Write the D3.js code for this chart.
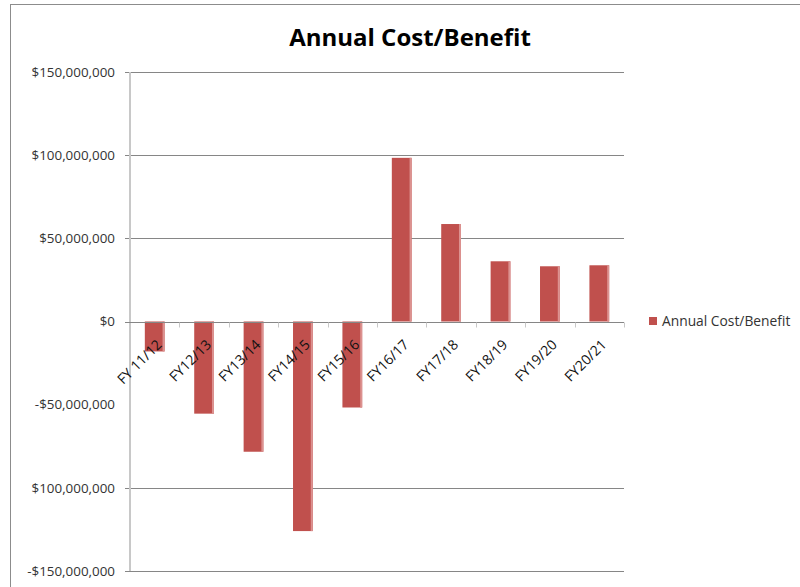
<!DOCTYPE html>
<html>
<head>
<meta charset="utf-8">
<script src="https://cdn.jsdelivr.net/npm/d3@7"></script>
<style>
  body { margin:0; background:#fff; }
  svg { display:block; }
</style>
</head>
<body>
<svg></svg>
<script>
var categories = ["FY 11/12","FY12/13","FY13/14","FY14/15","FY15/16","FY16/17","FY17/18","FY18/19","FY19/20","FY20/21"];
var values = [-18000000,-55400000,-78300000,-126000000,-51700000,98400000,58600000,36200000,33200000,33800000];
var tickValues = [150000000,100000000,50000000,0,-50000000,-100000000,-150000000];
var tickLabels = ["$150,000,000","$100,000,000","$50,000,000","$0","-$50,000,000","$100,000,000","-$150,000,000"];
var seriesName = "Annual Cost/Benefit";

var width = 800, height = 587;
var margin = {left:130, right:176, top:72, bottom:16};

var svg = d3.select("svg")
  .attr("width", width)
  .attr("height", height);

// chart border
svg.append("rect")
  .attr("x", 10.5).attr("y", 4.5)
  .attr("width", 820).attr("height", 620)
  .attr("fill", "none")
  .attr("stroke", "#8c8c8c");

var x = d3.scaleBand()
  .domain(categories)
  .range([margin.left, width - margin.right])
  .paddingInner(0.6)
  .paddingOuter(0.3);

var y = d3.scaleLinear()
  .domain([-150000000, 150000000])
  .range([571, 72]);

// gridlines (no line at -50M in the original)
svg.append("g").selectAll("line")
  .data(tickValues.filter(function(d){ return d !== -50000000 && d !== 0; }))
  .enter().append("line")
  .attr("x1", margin.left - 5)
  .attr("x2", width - margin.right)
  .attr("y1", function(d){ return Math.round(y(d)) + 0.5; })
  .attr("y2", function(d){ return Math.round(y(d)) + 0.5; })
  .attr("stroke", "#868686");

// y labels
svg.append("g").selectAll("text")
  .data(tickValues)
  .enter().append("text")
  .attr("x", 115)
  .attr("y", function(d){ return y(d); })
  .attr("dy", "0.35em")
  .attr("text-anchor", "end")
  .attr("font-family", "Open Sans, sans-serif")
  .attr("font-size", "13.4px")
  .attr("fill", "#333")
  .text(function(d, i){ return tickLabels[i]; });

// bars
var bars = svg.append("g").selectAll("g")
  .data(values)
  .enter().append("g");

bars.append("rect")
  .attr("x", function(d, i){ return x(categories[i]); })
  .attr("y", function(d){ return y(Math.max(0, d)); })
  .attr("width", x.bandwidth())
  .attr("height", function(d){ return Math.abs(y(d) - y(0)); })
  .attr("fill", "#c0504d");

bars.append("rect")
  .attr("x", function(d, i){ return x(categories[i]) + x.bandwidth() - 2; })
  .attr("y", function(d){ return y(Math.max(0, d)); })
  .attr("width", 2)
  .attr("height", function(d){ return Math.abs(y(d) - y(0)); })
  .attr("fill", "#dc9290");

// y axis line
svg.append("line")
  .attr("x1", margin.left).attr("x2", margin.left)
  .attr("y1", 72).attr("y2", 571)
  .attr("stroke", "#c8c8c8")
  .attr("stroke-width", 2);

// zero line / category axis
var y0 = Math.round(y(0)) + 0.5;
svg.append("line")
  .attr("x1", margin.left - 5).attr("x2", width - margin.right)
  .attr("y1", y0).attr("y2", y0)
  .attr("stroke", "#868686");

var plotW = width - margin.right - margin.left;
svg.append("g").selectAll("line")
  .data(d3.range(1, categories.length + 1))
  .enter().append("line")
  .attr("x1", function(i){ return Math.round(margin.left + i * plotW / categories.length) + 0.5; })
  .attr("x2", function(i){ return Math.round(margin.left + i * plotW / categories.length) + 0.5; })
  .attr("y1", y0).attr("y2", y0 + 5)
  .attr("stroke", "#c8c8c8");

// x labels
svg.append("g").selectAll("text")
  .data(categories)
  .enter().append("text")
  .attr("transform", function(d){
    return "translate(" + (x(d) + x.bandwidth() / 2 + 8) + "," + (y0 + 23) + ") rotate(-45)";
  })
  .attr("text-anchor", "end")
  .attr("font-family", "Open Sans, sans-serif")
  .attr("font-size", "14px")
  .attr("fill", "#111")
  .text(function(d){ return d; });

// title
svg.append("text")
  .attr("x", 410)
  .attr("y", 46)
  .attr("text-anchor", "middle")
  .attr("font-family", "Open Sans, sans-serif")
  .attr("font-weight", "bold")
  .attr("font-size", "24px")
  .attr("fill", "#000")
  .text(seriesName);

// legend
svg.append("rect")
  .attr("x", 649).attr("y", 317)
  .attr("width", 8).attr("height", 8)
  .attr("fill", "#c0504d");
svg.append("text")
  .attr("x", 662).attr("y", 326)
  .attr("font-family", "Open Sans, sans-serif")
  .attr("font-size", "13.8px")
  .attr("fill", "#333")
  .text(seriesName);
</script>
</body>
</html>
